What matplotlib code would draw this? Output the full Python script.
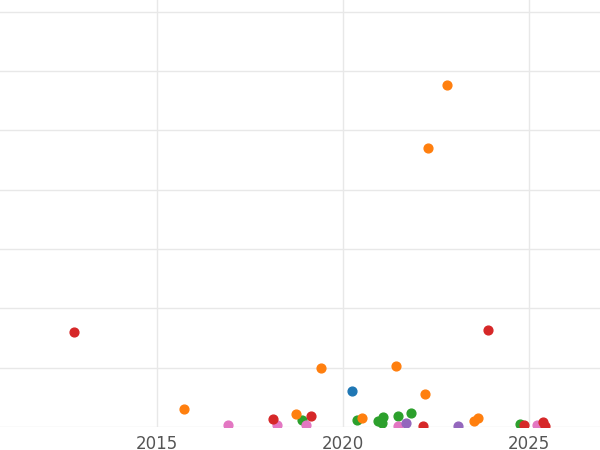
import matplotlib.pyplot as plt

# year (decimal) and value per series
red_x = [2012.77, 2018.12, 2019.14, 2022.15, 2023.90, 2024.87, 2025.38, 2025.43]
red_y = [1.60, 0.13, 0.19, 0.02, 1.64, 0.03, 0.08, 0.02]
orange_x = [2015.73, 2018.74, 2019.41, 2020.51, 2021.42, 2022.20, 2022.28, 2022.80, 2023.52, 2023.63]
orange_y = [0.30, 0.22, 1.00, 0.15, 1.03, 0.56, 4.70, 5.77, 0.10, 0.15]
green_x = [2018.90, 2020.38, 2020.94, 2021.08, 2021.05, 2021.48, 2021.83, 2024.76]
green_y = [0.12, 0.12, 0.10, 0.17, 0.07, 0.19, 0.24, 0.05]
pink_x = [2016.91, 2018.23, 2019.00, 2021.48, 2025.22]
pink_y = [0.03, 0.03, 0.03, 0.02, 0.03]
purple_x = [2021.69, 2023.09]
purple_y = [0.07, 0.02]
blue_x = [2020.24]
blue_y = [0.61]

fig = plt.figure(figsize=(6, 4.5), dpi=100)
ax = fig.add_axes([0, 23 / 450, 1, 427 / 450])
for xs, ys, c in [(blue_x, blue_y, '#1f77b4'), (green_x, green_y, '#2ca02c'),
                  (pink_x, pink_y, '#e377c2'), (purple_x, purple_y, '#9467bd'),
                  (orange_x, orange_y, '#ff7f0e'), (red_x, red_y, '#d62728')]:
    ax.scatter(xs, ys, s=40, color=c, zorder=3)
ax.set_xlim(2010.78, 2026.91)
ax.set_ylim(0, 7.2)
ax.set_xticks([2015, 2020, 2025])
ax.set_yticks(range(8))
ax.set_yticklabels([])
ax.grid(True, color='#e8e8e8', linewidth=1)
for s in ax.spines.values():
    s.set_visible(False)
ax.tick_params(length=0, labelsize=12, labelcolor='#555555', pad=6)
fig.savefig('out.png')
